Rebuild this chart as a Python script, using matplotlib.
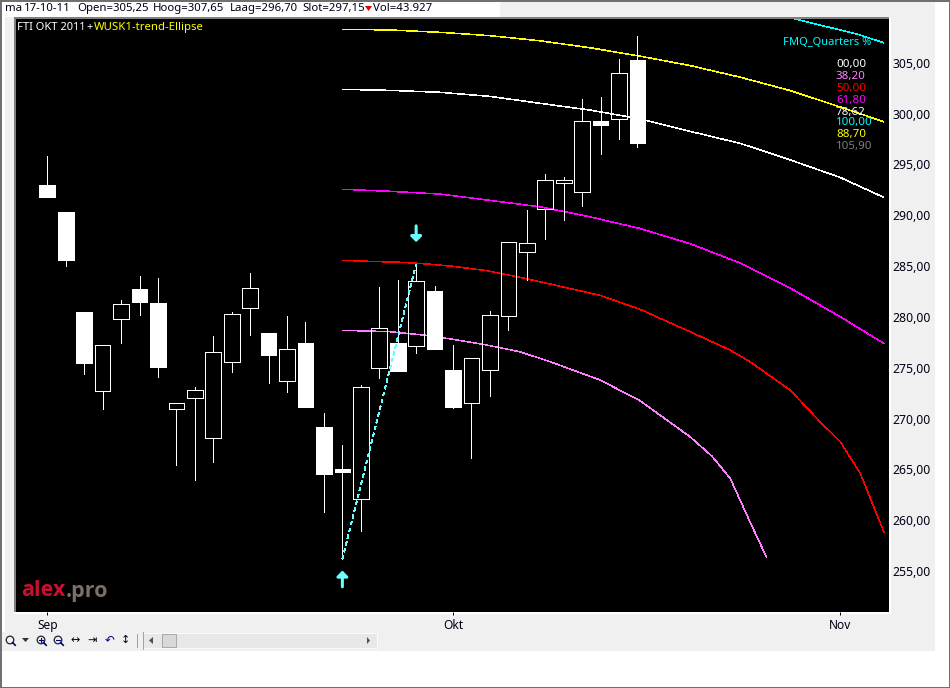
import matplotlib
matplotlib.use("Agg")
import matplotlib.pyplot as plt
from matplotlib.patches import Rectangle, Circle, Polygon

plt.rcParams['font.family'] = ['Noto Sans', 'DejaVu Sans']

# Daily candles, Sep-Oct 2011 (trading-day index = position in list)
highs = [295.82, 290.31, 280.48, 277.20, 281.66, 284.02, 283.79, 271.50, 273.07, 278.12, 280.48,
         284.31, 278.41, 280.08, 279.49, 270.54, 267.39, 273.30, 282.94, 283.62, 285.17, 283.03,
         277.23, 275.92, 280.57, 287.33, 290.51, 294.05, 293.76, 301.43, 301.63, 305.36, 307.65]
tops = [292.97, 290.31, 280.48, 277.20, 281.23, 282.74, 281.36, 271.50, 272.77, 276.51, 280.25,
        282.81, 278.41, 276.81, 277.43, 269.16, 265.03, 273.07, 278.87, 277.43, 283.50, 282.54,
        274.77, 275.92, 280.15, 287.33, 287.23, 293.43, 293.43, 299.24, 299.24, 303.96, 305.25]
bottoms = [291.82, 285.59, 275.49, 272.73, 279.82, 281.49, 275.10, 270.96, 272.05, 268.11, 275.59,
           280.90, 276.25, 273.72, 271.13, 264.54, 264.74, 262.05, 274.94, 274.70, 277.16, 276.87,
           271.16, 271.55, 274.80, 280.11, 286.41, 290.58, 293.20, 292.31, 298.90, 299.43, 297.15]
lows = [291.82, 285.03, 274.41, 270.96, 277.46, 280.21, 274.11, 265.46, 263.98, 265.75, 274.60,
        278.24, 273.52, 272.64, 271.13, 260.83, 256.21, 258.96, 274.01, 274.70, 276.47, 276.87,
        271.06, 266.14, 272.24, 278.74, 283.65, 287.69, 289.56, 290.93, 296.05, 297.52, 296.70]
filled = [1, 1, 1, 0, 0, 1, 1, 0, 0, 0, 0, 0, 1, 0, 1, 1, 1, 0, 0, 1, 0, 1, 1, 0, 0, 0, 0, 0, 0, 0, 1, 0, 1]

# Ellipse curves
upper_idx = [16, 18.6, 21.3, 24, 26.7, 29.4, 32.1, 34.9, 37.6, 40.3, 43, 45.35]
yellow = [308.29, 308.22, 307.99, 307.66, 307.16, 306.48, 305.66, 304.70, 303.56, 302.25, 300.64, 299.20]
white = [302.38, 302.28, 302.09, 301.69, 301.01, 300.35, 299.49, 298.23, 297.05, 295.43, 293.71, 291.76]
magenta = [292.55, 292.35, 292.08, 291.46, 290.83, 289.85, 288.71, 287.17, 285.27, 282.81, 280.01, 277.40]
red_idx = [16, 17.5, 19.3, 20.6, 22, 23.85, 25.63, 27.26, 29.97, 32.14, 34.85, 37.02, 38.1, 40.28, 41.9, 43, 44.08, 45.36]
red = [285.56, 285.46, 285.36, 285.20, 284.97, 284.54, 283.89, 283.23, 282.12, 280.74, 278.54, 276.74,
       275.59, 272.80, 269.68, 267.72, 264.61, 258.86]
violet_idx = [16, 18.6, 20.57, 22, 23.83, 25.63, 27.26, 29.97, 32.14, 34.85, 36.03, 37.03, 38.1, 39]
violet = [278.68, 278.54, 278.18, 277.79, 277.23, 276.57, 275.59, 273.79, 271.75, 268.21, 266.31, 264.12, 259.85, 256.35]
cyan_idx = [40.55, 43.9, 45.34]
cyan = [309.30, 307.82, 306.97]
swing_idx = [16, 20]
swing = [256.21, 285.17]

price_ticks = [255, 260, 265, 270, 275, 280, 285, 290, 295, 300, 305]
price_labels = ["255,00", "260,00", "265,00", "270,00", "275,00", "280,00", "285,00", "290,00", "295,00", "300,00", "305,00"]
month_ticks = [0, 22, 43]
month_labels = ["Sep", "Okt", "Nov"]

legend_labels = ["00,00", "38,20", "50,00", "61,80", "78,62", "100,00", "88,70", "105,90"]
legend_colors = ["#ffffff", "#ff80ff", "#ff0000", "#ff00ff", "#ffffff", "#00ffff", "#ffff00", "#808080"]

W, H = 950, 688
fig = plt.figure(figsize=(W / 100, H / 100), dpi=100, facecolor="white")

# ---- window chrome, in pixel coordinates
bg = fig.add_axes([0, 0, 1, 1], zorder=0)
bg.set_xlim(0, W); bg.set_ylim(H, 0); bg.axis("off")
bg.add_patch(Rectangle((5, 17), 930, 634, fc="#f0f0f0", ec="none"))
bg.add_patch(Rectangle((500, 2), 435, 15, fc="#f0f0f0", ec="none"))
bg.add_patch(Rectangle((2, 632), 933, 19, fc="#f0f0f0", ec="none"))
bg.add_patch(Rectangle((14, 17), 876, 2, fc="#808080", ec="none"))
bg.add_patch(Rectangle((14, 17), 2, 595, fc="#808080", ec="none"))
bg.add_patch(Rectangle((14, 612), 876, 2, fc="#ffffff", ec="none"))
bg.add_patch(Rectangle((889, 17), 2, 597, fc="#ffffff", ec="none"))
for rect in [(0, 0, W, 1.5), (0, 0, 1.5, H), (W - 1.5, 0, 1.5, H), (0, H - 1.5, W, 1.5)]:
    bg.add_patch(Rectangle(rect[:2], rect[2], rect[3], fc="#707070", ec="none"))

# ---- chart
ax = fig.add_axes([16 / W, 1 - 612 / H, 873 / W, 593 / H], zorder=1, facecolor="black")
ax.set_xlim(-1.697, 45.64)
ax.set_ylim(250.97, 309.30)

LW = 0.5
CURVE_LW = 0.38
curve_kw = dict(lw=CURVE_LW, antialiased=False, zorder=2)
ax.plot(upper_idx, yellow, color="#ffff00", **curve_kw)
ax.plot(upper_idx, white, color="#ffffff", **curve_kw)
ax.plot(upper_idx, magenta, color="#ff00ff", **curve_kw)
ax.plot(red_idx, red, color="#ff0000", **curve_kw)
ax.plot(violet_idx, violet, color="#ff80ff", **curve_kw)
ax.plot(cyan_idx, cyan, color="#00ffff", **curve_kw)

for i in range(len(highs)):
    if highs[i] > tops[i]:
        ax.plot([i, i], [tops[i], highs[i]], color="white", lw=LW, antialiased=False, zorder=3)
    if lows[i] < bottoms[i]:
        ax.plot([i, i], [lows[i], bottoms[i]], color="white", lw=LW, antialiased=False, zorder=3)
    ax.bar(i, tops[i] - bottoms[i], bottom=bottoms[i], width=0.85,
           facecolor="white" if filled[i] else "none", edgecolor="white",
           linewidth=LW, antialiased=False, zorder=3)

ax.plot(swing_idx, swing, color="#66ffff", lw=CURVE_LW, ls=(0, (7, 6)), antialiased=False, zorder=4)
arrow_kw = dict(arrowstyle="-|>,head_width=0.32,head_length=0.32", color="#66ffff", lw=2.2,
                mutation_scale=10, shrinkA=0, shrinkB=0)
ax.annotate("", xy=(swing_idx[0], 255.05), xytext=(swing_idx[0], 253.45), arrowprops=arrow_kw, zorder=4)
ax.annotate("", xy=(swing_idx[1], 287.35), xytext=(swing_idx[1], 288.95), arrowprops=arrow_kw, zorder=4)

ax.yaxis.tick_right()
ax.set_yticks(price_ticks, price_labels)
ax.set_xticks(month_ticks, month_labels)
ax.tick_params(axis="y", length=0, pad=2.5, labelsize=8.8, labelcolor="#000018")
ax.tick_params(axis="x", length=2, width=0.7, pad=3, color="#000000", labelsize=8.6, labelcolor="#000018",
               direction="out")
for s in ax.spines.values():
    s.set_visible(False)

# ---- overlay text in pixel coordinates
fg = fig.add_axes([0, 0, 1, 1], zorder=2)
fg.set_xlim(0, W); fg.set_ylim(H, 0); fg.axis("off"); fg.patch.set_alpha(0)

def t(x, y, s, color="#000018", size=8.3, **kw):
    fg.text(x, y, s, color=color, fontsize=size, va="center", ha=kw.pop("ha", "left"), **kw)

for x, s in [(5, "ma"), (24, "17-10-11"), (77, "Open=305,25"), (153, "Hoog=307,65"),
             (230, "Laag=296,70"), (302, "Slot=297,15"), (373, "Vol=43.927")]:
    t(x, 8.5, s, size=8.2)
fg.add_patch(Polygon([(365, 6), (372, 6), (368.5, 11)], fc="#e00000", ec="none"))

t(17, 27.5, "FTI OKT 2011", color="white", size=8)
t(86, 27.5, "+", color="white", size=8)
t(94, 27.5, "WUSK1-trend-Ellipse", color="#ffff00", size=8.2)
t(783, 42.5, "FMQ_Quarters %", color="#00ffff", size=8)
for y, s, c in zip([65, 77, 89, 101, 112, 123, 135, 147], legend_labels, legend_colors):
    t(836, y, s, color=c, size=8.3)

fg.text(21, 591, "alex", color="#c8102e", fontsize=15.5, fontweight="bold", va="center", family="Open Sans")
fg.text(66, 591, ".pro", color="#7b6f68", fontsize=15.5, fontweight="bold", va="center", family="Open Sans")

# ---- toolbar
for cx in (10, 41, 58):
    fg.add_patch(Circle((cx, 640), 3.8, fc="none", ec="#202030", lw=0.9))
    fg.plot([cx + 2.7, cx + 5.2], [642.7, 645.2], color="#000060", lw=1.2)
fg.plot([39, 43], [640, 640], color="#000080", lw=0.8)
fg.plot([41, 41], [638, 642], color="#000080", lw=0.8)
fg.plot([56, 60], [640, 640], color="#000080", lw=0.8)
fg.add_patch(Polygon([(22, 638), (29, 638), (25.5, 642)], fc="#303030", ec="none"))
t(75, 640, "↔", size=8, ha="center", family="DejaVu Sans")
t(92, 640, "⇥", size=8, ha="center", family="DejaVu Sans")
t(110, 640, "↶", color="#000090", size=8.5, ha="center", family="DejaVu Sans")
t(125, 640, "↕", size=8, ha="center", family="DejaVu Sans")
fg.plot([137, 137], [634, 647], color="#a0a0a0", lw=0.7)
fg.plot([142.5, 142.5], [632, 649], color="#a0a0a0", lw=0.7)
fg.add_patch(Rectangle((143, 633), 234, 15, fc="#e8e8e8", ec="#fafafa", lw=0.8))
fg.add_patch(Polygon([(149, 640.5), (153, 637), (153, 644)], fc="#505050", ec="none"))
fg.add_patch(Polygon([(370, 640.5), (367, 637), (367, 644)], fc="#505050", ec="none"))
fg.add_patch(Rectangle((162, 634), 14, 13, fc="#d8d8d8", ec="#a8a8a8", lw=0.7))

fig.savefig("out.png", dpi=100, facecolor="white")
